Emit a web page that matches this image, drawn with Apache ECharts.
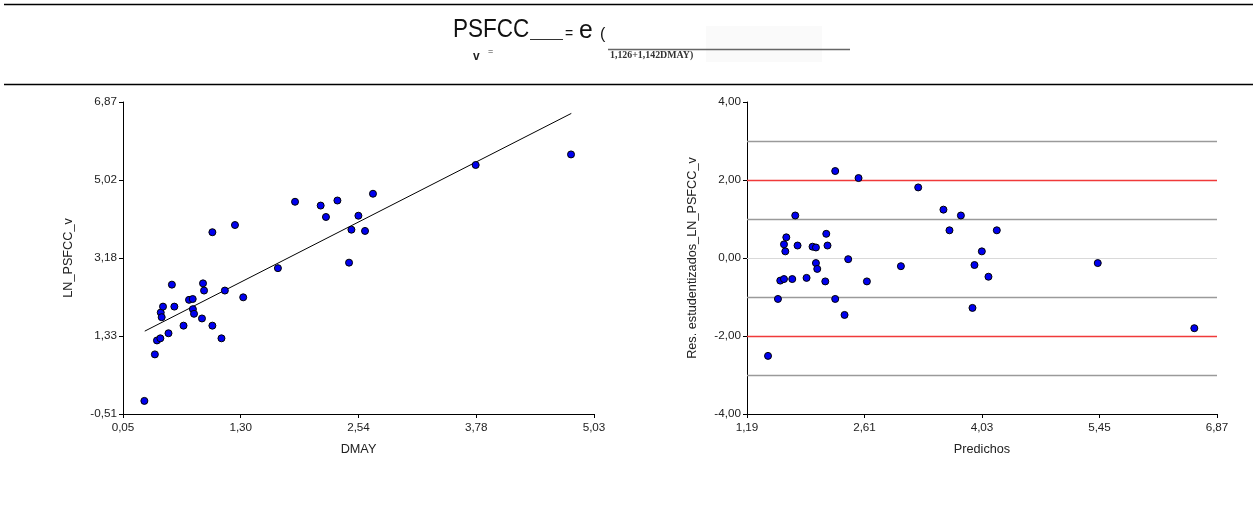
<!DOCTYPE html>
<html>
<head>
<meta charset="utf-8">
<script src="https://cdn.jsdelivr.net/npm/echarts@6/dist/echarts.min.js"></script>
<style>
  html, body { margin: 0; padding: 0; background: #fff; }
  #chart { width: 1257px; height: 509px; }
</style>
</head>
<body>
<div id="chart"></div>
<script>
// Left panel: observed LN_PSFCC_v against DMAY
const dmay = [0.276, 0.387, 0.409, 0.445, 0.449, 0.459, 0.473, 0.531, 0.567, 0.593,
              0.690, 0.748, 0.787, 0.789, 0.801, 0.885, 0.896, 0.907, 0.995, 0.995,
              1.091, 1.127, 1.234, 1.321, 1.688, 1.869, 2.140, 2.196, 2.317, 2.440,
              2.465, 2.539, 2.609, 2.693, 3.779, 4.787];
const lnPsfcc = [-0.20, 0.90, 1.23, 1.28, 1.89, 1.78, 2.03, 1.40, 2.55, 2.03,
                 1.58, 2.19, 2.21, 1.97, 1.86, 1.75, 2.58, 2.41, 3.79, 1.58,
                 1.28, 2.41, 3.96, 2.25, 2.94, 4.51, 4.42, 4.15, 4.54, 3.07,
                 3.85, 4.18, 3.82, 4.70, 5.38, 5.63];
// Fitted line vertices (DMAY, LN_PSFCC_v)
const fitDmay = [0.28, 4.79];
const fitLn = [1.45, 6.60];

// Right panel: studentized residuals against predicted values
const predichos = [1.444, 1.564, 1.592, 1.637, 1.637, 1.653, 1.665, 1.737, 1.773, 1.801,
                   1.910, 1.982, 2.023, 2.023, 2.039, 2.136, 2.148, 2.163, 2.256, 2.256,
                   2.369, 2.413, 2.538, 2.639, 3.050, 3.259, 3.564, 3.637, 3.775, 3.915,
                   3.939, 4.028, 4.108, 4.209, 5.429, 6.596];
const resStud = [-2.51, -1.05, -0.58, -0.54, 0.35, 0.17, 0.53, -0.54, 1.09, 0.32,
                 -0.51, 0.29, 0.27, -0.13, -0.28, -0.60, 0.62, 0.32, 2.23, -1.05,
                 -1.46, -0.03, 2.05, -0.60, -0.21, 1.81, 1.24, 0.71, 1.09, -1.28,
                 -0.18, 0.17, -0.48, 0.71, -0.13, -1.80];
// Reference levels for the residual panel
const refLevels = [3, 2, 1, 0, -1, -2, -3];

// Axis ticks and their printed labels
const dmayTicks = [0.05, 1.295, 2.54, 3.785, 5.03];
const dmayLabels = ['0,05', '1,30', '2,54', '3,78', '5,03'];
const lnTicks = [-0.51, 1.335, 3.18, 5.025, 6.87];
const lnLabels = ['-0,51', '1,33', '3,18', '5,02', '6,87'];
const predTicks = [1.19, 2.61, 4.03, 5.45, 6.87];
const predLabels = ['1,19', '2,61', '4,03', '5,45', '6,87'];
const resTicks = [-4, -2, 0, 2, 4];
const resLabels = ['-4,00', '-2,00', '0,00', '2,00', '4,00'];

const FONT = 'Liberation Sans, Arial, sans-serif';
const TXT = '#222';

function labelFrom(ticks, labels) {
  return function (v) {
    for (let i = 0; i < ticks.length; i++) {
      if (Math.abs(ticks[i] - v) < 1e-6) return labels[i];
    }
    return '';
  };
}

function valueAxis(gridIndex, min, max, ticks, labels, name, nameGap, isY) {
  return {
    type: 'value',
    gridIndex: gridIndex,
    min: min,
    max: max,
    name: name,
    nameLocation: 'middle',
    nameGap: nameGap,
    nameRotate: isY ? 90 : 0,
    nameTextStyle: { fontFamily: FONT, fontSize: 12.7, color: TXT },
    axisLine: { show: true, onZero: false, lineStyle: { color: '#000', width: 1 } },
    axisTick: { show: true, length: 4, customValues: ticks, lineStyle: { color: '#000', width: 1 } },
    axisLabel: {
      customValues: ticks,
      formatter: labelFrom(ticks, labels),
      fontFamily: FONT, fontSize: 11.7, color: TXT, margin: isY ? 6 : 8
    },
    splitLine: { show: false }
  };
}

const dots = {
  symbol: 'circle',
  symbolSize: 7,
  itemStyle: { color: '#0000f0', borderColor: '#000', borderWidth: 1, opacity: 1 }
};

function refColor(v) {
  if (v === 0) return '#d9d9d9';
  if (Math.abs(v) === 2) return '#f03a3a';
  return '#9a9a9a';
}

const option = {
  animation: false,
  backgroundColor: '#fff',
  grid: [
    { left: 123, right: 663, top: 102, bottom: 95 },
    { left: 747, right: 40, top: 102, bottom: 95 }
  ],
  xAxis: [
    valueAxis(0, 0.05, 5.03, dmayTicks, dmayLabels, 'DMAY', 29, false),
    valueAxis(1, 1.19, 6.87, predTicks, predLabels, 'Predichos', 29, false)
  ],
  yAxis: [
    valueAxis(0, -0.51, 6.87, lnTicks, lnLabels, 'LN_PSFCC_v', 48, true),
    valueAxis(1, -4, 4, resTicks, resLabels, 'Res. estudentizados_LN_PSFCC_v', 48, true)
  ],
  series: [
    {
      type: 'line',
      xAxisIndex: 0, yAxisIndex: 0,
      data: fitDmay.map((x, i) => [x, fitLn[i]]),
      showSymbol: false,
      lineStyle: { color: '#000', width: 1 },
      z: 2
    },
    Object.assign({
      type: 'scatter',
      xAxisIndex: 0, yAxisIndex: 0,
      data: dmay.map((x, i) => [x, lnPsfcc[i]]),
      z: 3
    }, dots),
    {
      type: 'line',
      xAxisIndex: 1, yAxisIndex: 1,
      data: [],
      z: 1,
      markLine: {
        silent: true,
        symbol: 'none',
        z: 1,
        label: { show: false },
        data: refLevels.map(v => ({
          yAxis: v,
          lineStyle: { color: refColor(v), width: v === 0 ? 1 : 1.3, type: 'solid' }
        }))
      }
    },
    Object.assign({
      type: 'scatter',
      xAxisIndex: 1, yAxisIndex: 1,
      data: predichos.map((x, i) => [x, resStud[i]]),
      z: 3
    }, dots)
  ],
  graphic: [
    // frame rules
    { type: 'line', shape: { x1: 4, y1: 4.5, x2: 1253, y2: 4.5 }, style: { stroke: '#000', lineWidth: 1.5 } },
    { type: 'line', shape: { x1: 4, y1: 84.5, x2: 1253, y2: 84.5 }, style: { stroke: '#000', lineWidth: 1.5 } },
    // faint smudge behind the exponent
    { type: 'rect', shape: { x: 706, y: 26, width: 116, height: 36 },
      style: { fill: 'rgba(0,0,0,0.018)', shadowBlur: 18, shadowColor: 'rgba(0,0,0,0.05)' } },
    // equation header
    { type: 'text', x: 453, y: 30, scaleX: 0.9,
      style: { text: 'PSFCC', fontFamily: FONT, fontSize: 25, fill: '#111', verticalAlign: 'middle' } },
    { type: 'line', shape: { x1: 530, y1: 39.5, x2: 563, y2: 39.5 }, style: { stroke: '#333', lineWidth: 1 } },
    { type: 'text', x: 565, y: 34.5,
      style: { text: '=', fontFamily: FONT, fontSize: 14, fill: '#111', verticalAlign: 'middle' } },
    { type: 'text', x: 579, y: 31, scaleX: 0.95,
      style: { text: 'e', fontFamily: FONT, fontSize: 26, fill: '#111', verticalAlign: 'middle' } },
    { type: 'text', x: 600, y: 35,
      style: { text: '(', fontFamily: FONT, fontSize: 16, fill: '#111', verticalAlign: 'middle' } },
    { type: 'line', shape: { x1: 608, y1: 49.5, x2: 850, y2: 49.5 }, style: { stroke: '#666', lineWidth: 1.5 } },
    { type: 'text', x: 610, y: 55.5, scaleX: 1.04,
      style: { text: '1,126+1,142DMAY)', fontFamily: 'Liberation Serif, serif', fontWeight: 'bold',
               fontSize: 9.5, fill: '#333', verticalAlign: 'middle' } },
    { type: 'text', x: 473, y: 56.5,
      style: { text: 'v', fontFamily: FONT, fontWeight: 'bold', fontSize: 12, fill: '#222', verticalAlign: 'middle' } },
    { type: 'text', x: 488, y: 52,
      style: { text: '=', fontFamily: FONT, fontSize: 9, fill: '#333', verticalAlign: 'middle' } }
  ]
};

const chart = echarts.init(document.getElementById('chart'), null, { renderer: 'canvas' });
chart.setOption(option);
</script>
</body>
</html>
